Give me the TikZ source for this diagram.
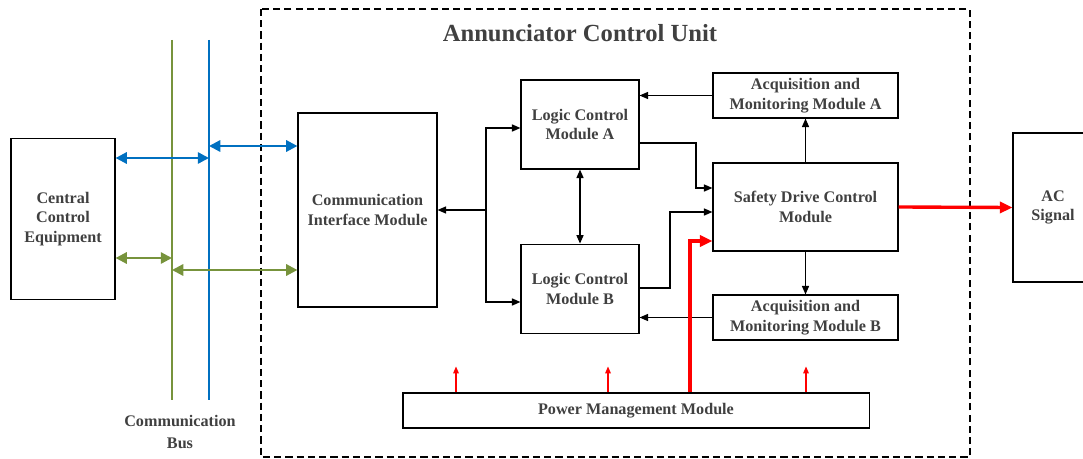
\documentclass[tikz,border=0pt]{standalone}
\usepackage{fontspec}
\setmainfont{Liberation Serif}
\usepackage{tikz}
\usetikzlibrary{arrows.meta,positioning,calc}
\definecolor{busblue}{RGB}{0,112,192}
\definecolor{busgreen}{RGB}{119,147,60}
\definecolor{txtgray}{RGB}{64,64,64}
\tikzstyle{module} = [rectangle, draw = black, line width = 0.8pt, inner sep = 0pt, align = center, text = txtgray, font = \bfseries\fontsize{11.5}{14}\selectfont]
\tikzstyle{label} = [inner sep = 0pt, align = center, text = txtgray, font = \bfseries\fontsize{11.5}{15}\selectfont]
\tikzstyle{arrow} = [line width = 0.9pt, ->, > = {Triangle[length = 6pt, width = 5pt]}]
\tikzstyle{dblarrow} = [arrow, <->]
\tikzstyle{bluebus} = [line width = 1.7pt, draw = busblue]
\tikzstyle{greenbus} = [line width = 1.7pt, draw = busgreen]
\tikzstyle{bluearrow} = [bluebus, <->, > = {Triangle[length = 8pt, width = 8pt]}]
\tikzstyle{greenarrow} = [greenbus, <->, > = {Triangle[length = 8pt, width = 8pt]}]
\tikzstyle{power} = [line width = 2.4pt, red, ->, > = {Triangle[length = 9pt, width = 8pt]}]
\tikzstyle{powerthin} = [line width = 0.9pt, red, ->, > = {Triangle[length = 5pt, width = 4pt]}]

\begin{document}
\begin{tikzpicture}[x = 0.025cm, y = -0.025cm]
    \useasboundingbox (0,0) rectangle (1083,459);

    % unit frame and title
    \draw [dashed, line width = 0.8pt, dash pattern = on 5pt off 3pt] (261,9) rectangle (970,457);
    \node (title) [inner sep = 0pt, text = txtgray, font = \bfseries\fontsize{17.5}{20}\selectfont] at (580,33) {Annunciator Control Unit};

    % communication bus
    \coordinate (gtop) at (172,40);
    \coordinate (gbot) at (172,400);
    \coordinate (btop) at (209,40);
    \coordinate (bbot) at (209,400);
    \draw [greenbus] (gtop) -- (gbot);
    \draw [bluebus] (btop) -- (bbot);
    \node (bus) [label] at (180,432) {Communication\\Bus};

    \node (cce) [module, minimum width = 2.6cm, minimum height = 4.025cm] at (63,219) {Central\\Control\\Equipment};
    \node (cim) [module, minimum width = 3.475cm, minimum height = 4.85cm] at (367.5,210) {Communication\\Interface Module};
    \node (lcma) [module, minimum width = 2.95cm, minimum height = 2.225cm] at (580,124.5) {Logic Control\\Module A};
    \node (lcmb) [module, minimum width = 2.95cm, minimum height = 2.225cm, below = 1.85cm of lcma] {Logic Control\\Module B};
    \node (amma) [module, minimum width = 4.625cm, minimum height = 1.125cm] at (805.5,95.5) {Acquisition and\\Monitoring Module A};
    \node (sdcm) [module, minimum width = 4.625cm, minimum height = 2.2cm] at (805.5,207) {Safety Drive Control\\Module};
    \node (ammb) [module, minimum width = 4.625cm, minimum height = 1.125cm] at (805.5,317.5) {Acquisition and\\Monitoring Module B};
    \node (pmm) [module, minimum width = 11.65cm, minimum height = 0.875cm] at (636,410.5) {Power Management Module};
    \node (ac) [module, minimum width = 2cm, minimum height = 3.725cm] at (1053,207.5) {AC\\Signal};

    % bus links
    \draw [bluearrow] (cce.east |- 0,158) -- (bbot |- 0,158);
    \draw [bluearrow] (bbot |- 0,146) -- (cim.west |- 0,146);
    \draw [greenarrow] (cce.east |- 0,258) -- (gbot |- 0,258);
    \draw [greenarrow] (gbot |- 0,270) -- (cim.west |- 0,270);

    % control links
    \coordinate (jct) at (486,210);
    \draw [arrow] (jct) -- (cim.east |- jct);
    \draw [arrow] (jct) |- (lcma.west |- 0,128);
    \draw [arrow] (jct) |- (lcmb.west |- 0,302);
    \draw [dblarrow] (lcma) -- (lcmb);
    \draw [arrow] (amma.west) -- (lcma.east |- amma.west);
    \draw [arrow] (ammb.west) -- (lcmb.east |- ammb.west);
    \draw [arrow] (sdcm) -- (amma);
    \draw [arrow] (sdcm) -- (ammb);
    \draw [arrow] (lcma.east |- 0,143) -| (696,188) -- (sdcm.west |- 0,188);
    \draw [arrow] (lcmb.east |- 0,288) -| (670,212) -- (sdcm.west |- 0,212);

    % power
    \draw [power] (pmm.north -| 690,0) |- (sdcm.west |- 0,241);
    \draw [power] (sdcm.east) -- (ac.west);
    \draw [powerthin] (pmm.north -| 456,0) -- ++(0,-26);
    \draw [powerthin] (pmm.north -| 608,0) -- ++(0,-26);
    \draw [powerthin] (pmm.north -| 806,0) -- ++(0,-26);
\end{tikzpicture}
\end{document}
